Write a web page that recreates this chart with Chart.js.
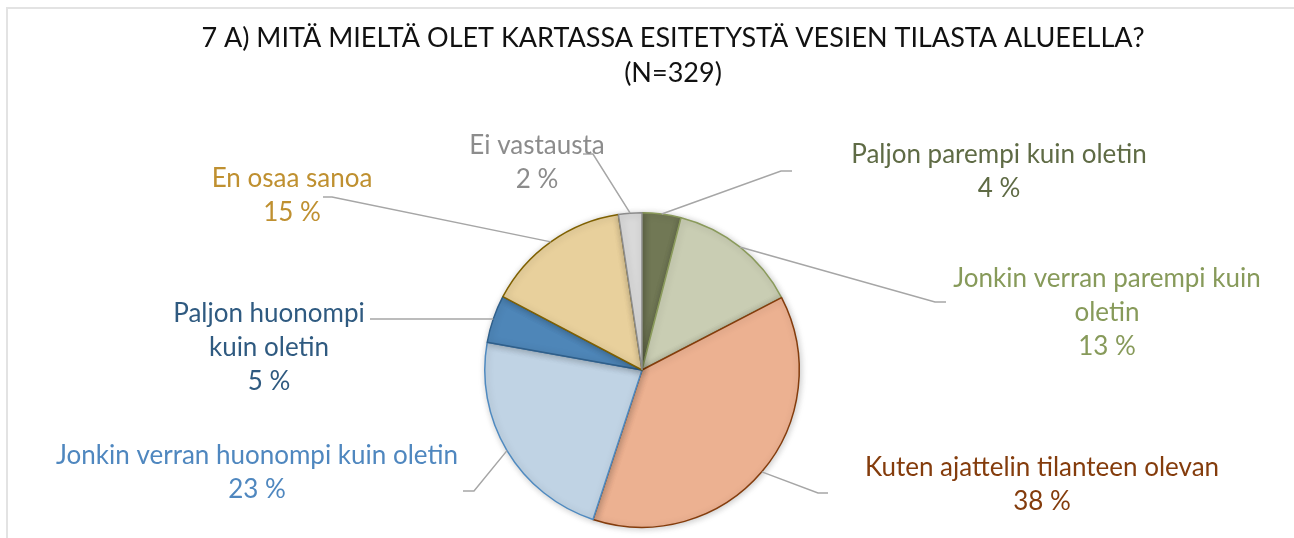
<!DOCTYPE html>
<html>
<head>
<meta charset="utf-8">
<script src="https://cdn.jsdelivr.net/npm/chart.js@4"></script>
<style>
    html, body { margin: 0; padding: 0; background: #fff; }
    #wrap { position: relative; width: 1294px; height: 538px; overflow: hidden; }
    #frame { position: absolute; left: 6px; top: 7px; width: 1300px; height: 600px;
             border-left: 2px solid #e3e3e3; border-top: 2px solid #e3e3e3; }
    canvas { position: absolute; left: 0; top: 0; }
</style>
</head>
<body>
<div id="wrap">
    <div id="frame"></div>
    <canvas id="pieChart" width="1294" height="538"></canvas>
</div>
<script>
// Data
const categories = [
    'Paljon parempi kuin oletin',
    'Jonkin verran parempi kuin oletin',
    'Kuten ajattelin tilanteen olevan',
    'Jonkin verran huonompi kuin oletin',
    'Paljon huonompi kuin oletin',
    'En osaa sanoa',
    'Ei vastausta'
];
const shares = [4.0, 13.4, 37.7, 22.8, 4.9, 14.9, 2.4];
const percentLabels = ['4 %', '13 %', '38 %', '23 %', '5 %', '15 %', '2 %'];
const titleLines = ['7 A) MITÄ MIELTÄ OLET KARTASSA ESITETYSTÄ VESIEN TILASTA ALUEELLA?', '(N=329)'];

// Styles
const fillColors = ['#717855', '#c9cdb3', '#ecb191', '#c0d3e4', '#4e86b8', '#e8d09c', '#d9d9d9'];
const edgeColors = ['#8a9a5b', '#8a9a5b', '#843c0c', '#4f8ac0', '#2f5f8a', '#7f6000', '#8c8c8c'];
const textColors = ['#5f6b45', '#879a5a', '#843c0c', '#4f87bf', '#2f5a80', '#bf9030', '#8c8c8c'];

// Label layout relative to pie centre: text lines, first line position, leader elbow points
const labelLayout = [
    { lines: ['Paljon parempi kuin oletin'], dx: 357, dy: -215, elbow: [[139, -199], [150, -199]] },
    { lines: ['Jonkin verran parempi kuin', 'oletin'], dx: 465, dy: -91, elbow: [[293, -68], [304, -68]] },
    { lines: ['Kuten ajattelin tilanteen olevan'], dx: 400, dy: 98, elbow: [[176, 123], [186, 123]] },
    { lines: ['Jonkin verran huonompi kuin oletin'], dx: -385, dy: 86, elbow: [[-168, 121], [-179, 121]] },
    { lines: ['Paljon huonompi', 'kuin oletin'], dx: -373, dy: -56, elbow: [[-155, -51], [-272, -51]] },
    { lines: ['En osaa sanoa'], dx: -350, dy: -191, elbow: [[-310, -173], [-319, -173]] },
    { lines: ['Ei vastausta'], dx: -105, dy: -224, elbow: [[-49, -216], [-59, -216]] }
];
const labelFont = '26px Lato';
const lineStep = 34;
const titleFont = '27px Lato';
const titlePos = { x: 673, y: 38, step: 35 };

// Soft shadow under the pie
const pieShadow = {
    id: 'pieShadow',
    beforeDatasetsDraw(chart) {
        const ctx = chart.ctx;
        ctx.save();
        ctx.shadowColor = 'rgba(0,0,0,0.22)';
        ctx.shadowBlur = 7;
        ctx.shadowOffsetX = 1;
        ctx.shadowOffsetY = 1;
    },
    afterDatasetsDraw(chart) {
        chart.ctx.restore();
    }
};

// Title (placed off-centre like the original)
const chartTitle = {
    id: 'chartTitle',
    afterDraw(chart) {
        const ctx = chart.ctx;
        ctx.save();
        ctx.fillStyle = '#111';
        ctx.font = titleFont;
        ctx.textAlign = 'center';
        ctx.textBaseline = 'middle';
        titleLines.forEach((t, k) => ctx.fillText(t, titlePos.x, titlePos.y + k * titlePos.step));
        ctx.restore();
    }
};

// Data labels with leader lines
const leaderLabels = {
    id: 'leaderLabels',
    afterDraw(chart) {
        const ctx = chart.ctx;
        const arcs = chart.getDatasetMeta(0).data;
        ctx.save();
        arcs.forEach((arc, i) => {
            const { x, y, outerRadius, startAngle, endAngle } = arc.getProps(['x', 'y', 'outerRadius', 'startAngle', 'endAngle'], true);
            const mid = (startAngle + endAngle) / 2;
            const lay = labelLayout[i];

            // leader line
            ctx.strokeStyle = '#a6a6a6';
            ctx.lineWidth = 1.5;
            ctx.beginPath();
            ctx.moveTo(x + Math.cos(mid) * outerRadius, y + Math.sin(mid) * outerRadius);
            lay.elbow.forEach(p => ctx.lineTo(x + p[0], y + p[1]));
            ctx.stroke();

            // text
            ctx.fillStyle = textColors[i];
            ctx.font = labelFont;
            ctx.textAlign = 'center';
            ctx.textBaseline = 'middle';
            const lines = lay.lines.concat([percentLabels[i]]);
            lines.forEach((t, k) => ctx.fillText(t, x + lay.dx, y + lay.dy + k * lineStep));
        });
        ctx.restore();
    }
};

const ctx = document.getElementById('pieChart').getContext('2d');
new Chart(ctx, {
    type: 'pie',
    data: {
        labels: categories,
        datasets: [{
            data: shares,
            backgroundColor: fillColors,
            borderColor: edgeColors,
            borderWidth: 1.5
        }]
    },
    options: {
        responsive: false,
        animation: false,
        layout: {
            padding: { left: 0, right: 10, top: 212, bottom: 10 }
        },
        plugins: {
            legend: { display: false },
            tooltip: { enabled: false },
            title: { display: false }
        }
    },
    plugins: [pieShadow, chartTitle, leaderLabels]
});
</script>
</body>
</html>
